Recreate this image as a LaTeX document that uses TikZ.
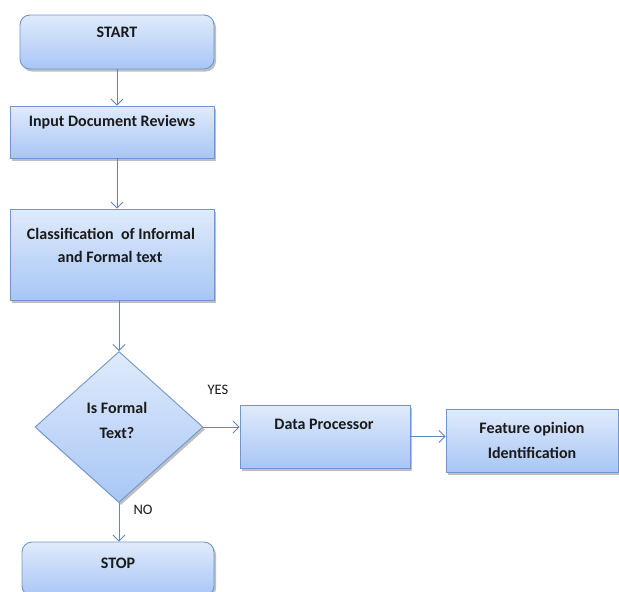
\documentclass[tikz,border=0pt]{standalone}
\usepackage{fontspec}
\setmainfont{Carlito}
\usetikzlibrary{shapes.geometric,shadows,arrows.meta}
\definecolor{topc}{HTML}{E0EBFC}
\definecolor{botc}{HTML}{A8C6F5}
\definecolor{bordc}{HTML}{6F97CD}
\definecolor{arrc}{HTML}{5B87C2}
\definecolor{txtc}{HTML}{1A1A1A}
\tikzset{
  box/.style={draw=bordc, line width=0.9pt, top color=topc, bottom color=botc,
    drop shadow={shadow xshift=2pt, shadow yshift=-2.5pt, fill=black, opacity=0.25},
    inner sep=0pt, rectangle},
  lbl/.style={font=\bfseries\fontsize{16}{19}\selectfont, text=txtc, inner sep=0pt},
  yn/.style={font=\fontsize{14.5}{17}\selectfont, text=txtc, inner sep=0pt},
  arr/.style={draw=arrc, line width=0.9pt, -{Straight Barb[length=6pt,width=12pt]}}
}
\begin{document}
\begin{tikzpicture}[x=1pt,y=-1pt]
\useasboundingbox (0,0) rectangle (619,592);
\clip (0,0) rectangle (619,592);
\fill[white] (0,0) rectangle (619,592);
% boxes
\node[box, rounded corners=10pt, minimum width=194pt, minimum height=54pt] (start) at (117,42) {};
\node[box, minimum width=204pt, minimum height=52pt] (input) at (112,132) {};
\node[box, minimum width=204pt, minimum height=91pt] (class) at (112,254.5) {};
\node[box, diamond, minimum width=168pt, minimum height=151pt] (dia) at (119,427) {};
\node[box, rounded corners=10pt, minimum width=192pt, minimum height=54pt] (stop) at (118,569) {};
\node[box, minimum width=170pt, minimum height=63pt] (dp) at (325,436.5) {};
\node[box, minimum width=172pt, minimum height=63pt] (feat) at (532,440.5) {};
% texts
\node[lbl] (tstart) at (117,32) {START};
\node[lbl] (tinput) at (112,122) {Input Document Reviews};
\node[lbl] (tclass1) at (111,234) {Classification\ \ of Informal};
\node[lbl] (tclass2) at (110,257) {and Formal text};
\node[lbl] (tdia1) at (117,408) {Is Formal};
\node[lbl] (tdia2) at (117,433) {Text?};
\node[lbl] (tstop) at (118,563) {STOP};
\node[lbl] (tdp) at (324,424) {Data Processor};
\node[lbl] (tfeat1) at (532,429) {Feature opinion};
\node[lbl] (tfeat2) at (532,453) {Identification};
\node[yn] (yes) at (218,390) {YES};
\node[yn] (no) at (143,510) {NO};
% arrows
\draw[arr] (start.south) -- (start.south |- input.north);
\draw[arr] (input.south -| start.south) -- (class.north -| start.south);
\draw[arr] (class.south -| dia.north) -- (dia.north);
\draw[arr] (dia.south) -- (stop.north -| dia.south);
\draw[arr] (dia.east) -- (dp.west |- dia.east);
\draw[arr] (dp.east) -- (feat.west |- dp.east);
\end{tikzpicture}
\end{document}
